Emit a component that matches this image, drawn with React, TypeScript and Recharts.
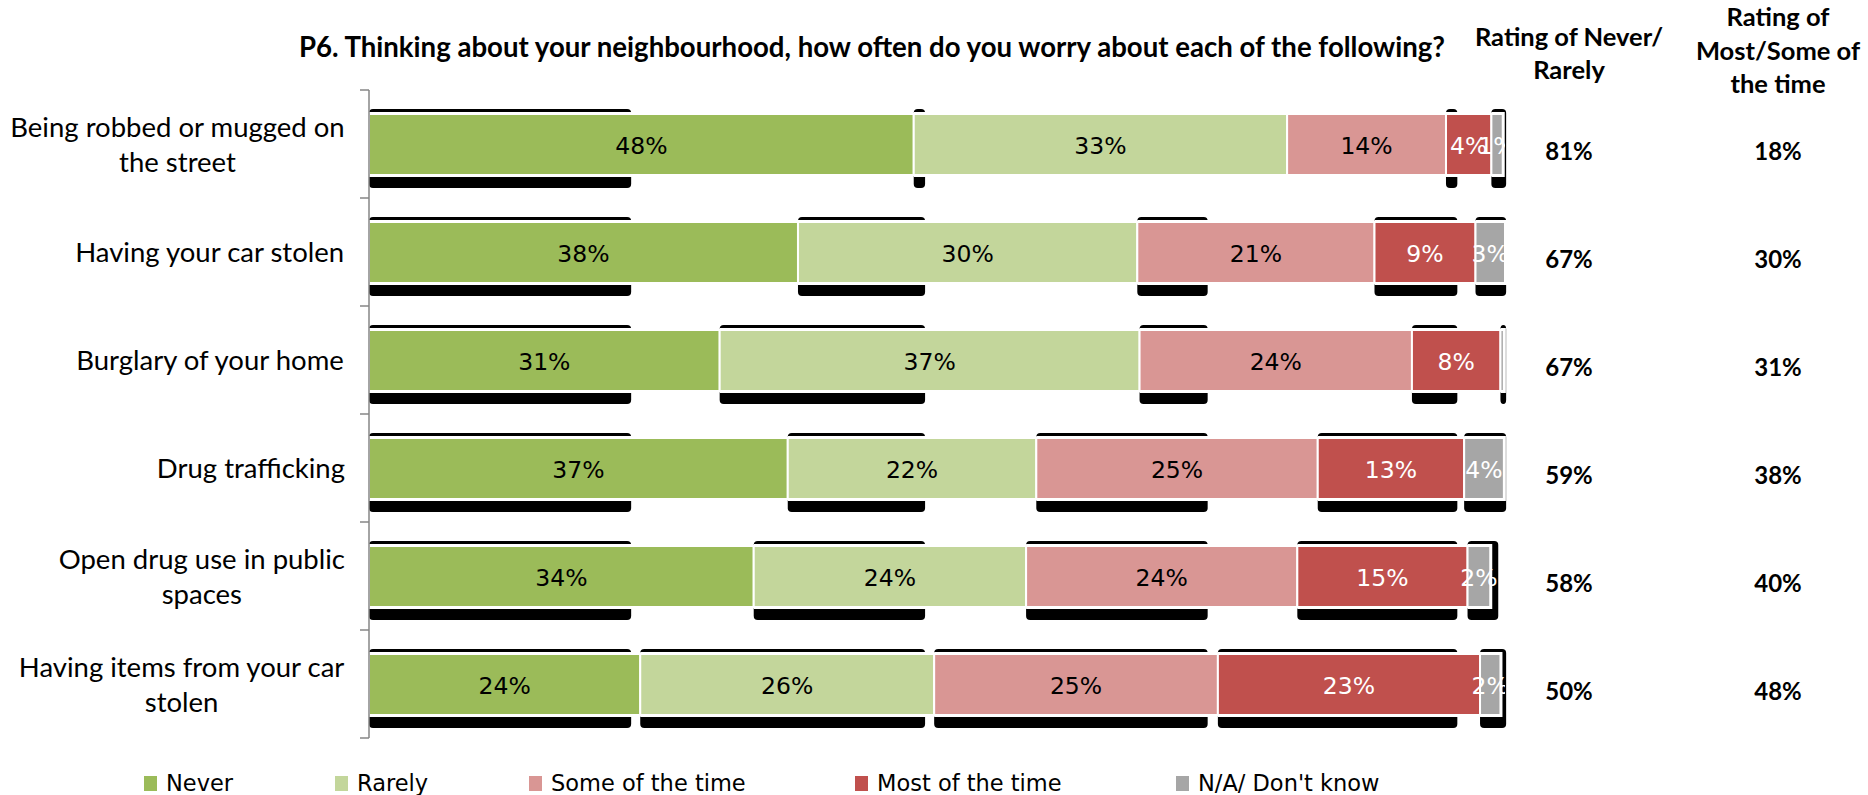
import React from 'react'
import { Bar, BarChart, LabelList, XAxis, YAxis } from 'recharts'

const categories = [
  'Being robbed or mugged on the street',
  'Having your car stolen',
  'Burglary of your home',
  'Drug trafficking',
  'Open drug use in public spaces',
  'Having items from your car stolen',
]
const never = [48.0, 37.8, 30.9, 36.9, 33.9, 23.9]
const rarely = [32.9, 29.9, 37.0, 21.9, 24.0, 25.9]
const someOfTheTime = [14.0, 20.9, 24.0, 24.8, 23.9, 25.0]
const mostOfTheTime = [4.0, 8.9, 7.8, 12.9, 15.0, 23.1]
const dontKnow = [1.0, 2.6, 0.3, 3.5, 2.0, 1.8]

const ratingNeverRarely = ['81%', '67%', '67%', '59%', '58%', '50%']
const ratingMostSome = ['18%', '30%', '31%', '38%', '40%', '48%']

const seriesKeys = ['never', 'rarely', 'some', 'most', 'na']
const seriesNames = ['Never', 'Rarely', 'Some of the time', 'Most of the time', "N/A/ Don't know"]
const seriesColors = ['#9BBB59', '#C3D69B', '#D99694', '#C0504D', '#A6A6A6']
const labelColors = ['#000', '#000', '#000', '#fff', '#fff']

const title = 'P6. Thinking about your neighbourhood, how often do you worry about each of the following?'

// layout
const W = 1868
const H = 795
const PLOT_LEFT = 369
const PLOT_RIGHT = 1505
const PLOT_TOP = 90
const PLOT_BOTTOM = 738
const BAND = (PLOT_BOTTOM - PLOT_TOP) / categories.length
const LABEL_RIGHT = 345
const COL1_X = 1569
const COL2_X = 1778
const legendX = [144, 335, 529, 855, 1176]

// the source image has a broken drop shadow that only shows in vertical strips
const shadowBreaks = [23.1, 49.0, 73.9, 95.9, 100.2]

const data = categories.map((name, i) => ({
  name,
  never: never[i],
  rarely: rarely[i],
  some: someOfTheTime[i],
  most: mostOfTheTime[i],
  na: dontKnow[i],
}))

let ctx: CanvasRenderingContext2D | null = null
function measure(text: string, font: string) {
  if (!ctx) ctx = document.createElement('canvas').getContext('2d')
  if (!ctx) return text.length * 13
  ctx.font = font
  return ctx.measureText(text).width
}

const CAT_SIZE = 27.5
const catFont = `${CAT_SIZE}px Lato`
function wrap(text: string, maxW: number) {
  const words = text.split(' ')
  const lines: string[] = []
  let cur = ''
  words.forEach((w) => {
    const t = cur ? cur + ' ' + w : w
    if (cur && measure(t, catFont) > maxW) {
      lines.push(cur)
      cur = w
    } else cur = t
  })
  if (cur) lines.push(cur)
  return lines
}

function CategoryTick(props: any) {
  const { y, payload, index } = props
  const lines = wrap(String(payload.value), 345)
  const blockW = Math.max(...lines.map((l) => measure(l, catFont)))
  const cx = LABEL_RIGHT - blockW / 2
  const lh = 35
  const first = y + 10 - ((lines.length - 1) * lh) / 2
  return (
    <g>
      <line x1={PLOT_LEFT - 9} x2={PLOT_LEFT} y1={y - BAND / 2} y2={y - BAND / 2} stroke="#868686" strokeWidth={1.5} />
      {index === categories.length - 1 && (
        <line x1={PLOT_LEFT - 9} x2={PLOT_LEFT} y1={y + BAND / 2} y2={y + BAND / 2} stroke="#868686" strokeWidth={1.5} />
      )}
      {lines.map((l, i) => (
        <text key={i} x={cx} y={first + i * lh} textAnchor="middle" fontFamily="Lato" fontSize={CAT_SIZE} fill="#000">
          {l}
        </text>
      ))}
    </g>
  )
}

function RatingTick(props: any) {
  const { y, index } = props
  return (
    <g fontFamily="Lato" fontWeight="bold" fontSize={24} fill="#000" textAnchor="middle">
      <text x={COL1_X} y={y + 16}>{ratingNeverRarely[index]}</text>
      <text x={COL2_X} y={y + 16}>{ratingMostSome[index]}</text>
    </g>
  )
}

function segmentShape(k: number) {
  return (props: any) => {
    const { x, y, width, height, payload, fill } = props
    const v = payload[seriesKeys[k]]
    if (!v || !width || width <= 0) return <g />
    const ppu = width / v
    const starts: number[] = []
    let total = 0
    seriesKeys.forEach((key) => {
      starts.push(total)
      total += payload[key]
    })
    const x0 = x - starts[k] * ppu
    const rowEnd = x0 + total * ppu
    const tileEnd = shadowBreaks.map((b) => x0 + b * ppu).find((b) => b > x + 0.5) ?? rowEnd + 8
    const laterInTile = seriesKeys.some((key, j) => j > k && payload[key] > 0 && x0 + starts[j] * ppu < tileEnd)
    const shadowRight = Math.min(tileEnd, rowEnd + 8)
    return (
      <g>
        {!laterInTile && shadowRight > x && (
          <rect x={x} y={y - 5} width={shadowRight - x} height={height + 18} rx={4} fill="#000" />
        )}
        <rect x={x} y={y - 2} width={width + 2} height={height + 4} fill="#fff" />
        <rect x={x} y={y} width={width} height={height} fill={fill} stroke="#fff" strokeWidth={2} />
      </g>
    )
  }
}

function SegmentLabel(k: number) {
  return (p: any) => {
    const v = Number(p.value)
    if (!(v >= 0.5)) return null
    return (
      <text
        x={p.x + p.width / 2}
        y={p.y + p.height / 2 + 9}
        textAnchor="middle"
        fontFamily="DejaVu Sans"
        fontSize={23.5}
        fill={labelColors[k]}
        clipPath="url(#labelClip)"
      >
        {`${Math.round(v)}%`}
      </text>
    )
  }
}

export default function App() {
  return (
    <div style={{ position: 'relative', width: W, height: H, background: '#fff' }}>
      <style>{`body{margin:0}`}</style>
      <BarChart
        width={W}
        height={H}
        data={data}
        layout="vertical"
        margin={{ top: PLOT_TOP, right: 0, bottom: H - PLOT_BOTTOM, left: 0 }}
        barCategoryGap={0}
      >
        <defs>
          <clipPath id="labelClip">
            <rect x={PLOT_LEFT} y={PLOT_TOP} width={PLOT_RIGHT - PLOT_LEFT} height={PLOT_BOTTOM - PLOT_TOP} />
          </clipPath>
        </defs>
        <XAxis type="number" domain={[0, 100]} hide />
        <YAxis
          type="category"
          dataKey="name"
          width={PLOT_LEFT}
          axisLine={{ stroke: '#868686', strokeWidth: 1.5 }}
          tickLine={false}
          tick={<CategoryTick />}
          interval={0}
        />
        <YAxis
          yAxisId="right"
          orientation="right"
          type="category"
          dataKey="name"
          width={W - PLOT_RIGHT}
          axisLine={false}
          tickLine={false}
          tick={<RatingTick />}
          interval={0}
        />
        {seriesKeys.map((key, k) => (
          <Bar
            key={key}
            dataKey={key}
            name={seriesNames[k]}
            stackId="a"
            fill={seriesColors[k]}
            barSize={61}
            isAnimationActive={false}
            shape={segmentShape(k)}
          >
            <LabelList dataKey={key} content={SegmentLabel(k)} />
          </Bar>
        ))}
      </BarChart>

      <svg width={W} height={H} style={{ position: 'absolute', left: 0, top: 0, pointerEvents: 'none' }}>
        <text x={872} y={57} textAnchor="middle" fontFamily="Lato" fontWeight="bold" fontSize={27.6} fill="#000">
          {title}
        </text>
        <g fontFamily="Lato" fontWeight="bold" fontSize={25.5} fill="#000" textAnchor="middle">
          <text x={COL1_X} y={46}>Rating of Never/</text>
          <text x={COL1_X} y={79}>Rarely</text>
          <text x={COL2_X} y={26}>Rating of</text>
          <text x={COL2_X} y={60}>Most/Some of</text>
          <text x={COL2_X} y={93}>the time</text>
        </g>
        {seriesNames.map((n, i) => (
          <g key={n}>
            <rect x={legendX[i]} y={776} width={13} height={15} fill={seriesColors[i]} />
            <text x={legendX[i] + 22} y={791} fontFamily="DejaVu Sans" fontSize={22.5} fill="#000">
              {n}
            </text>
          </g>
        ))}
      </svg>
    </div>
  )
}
